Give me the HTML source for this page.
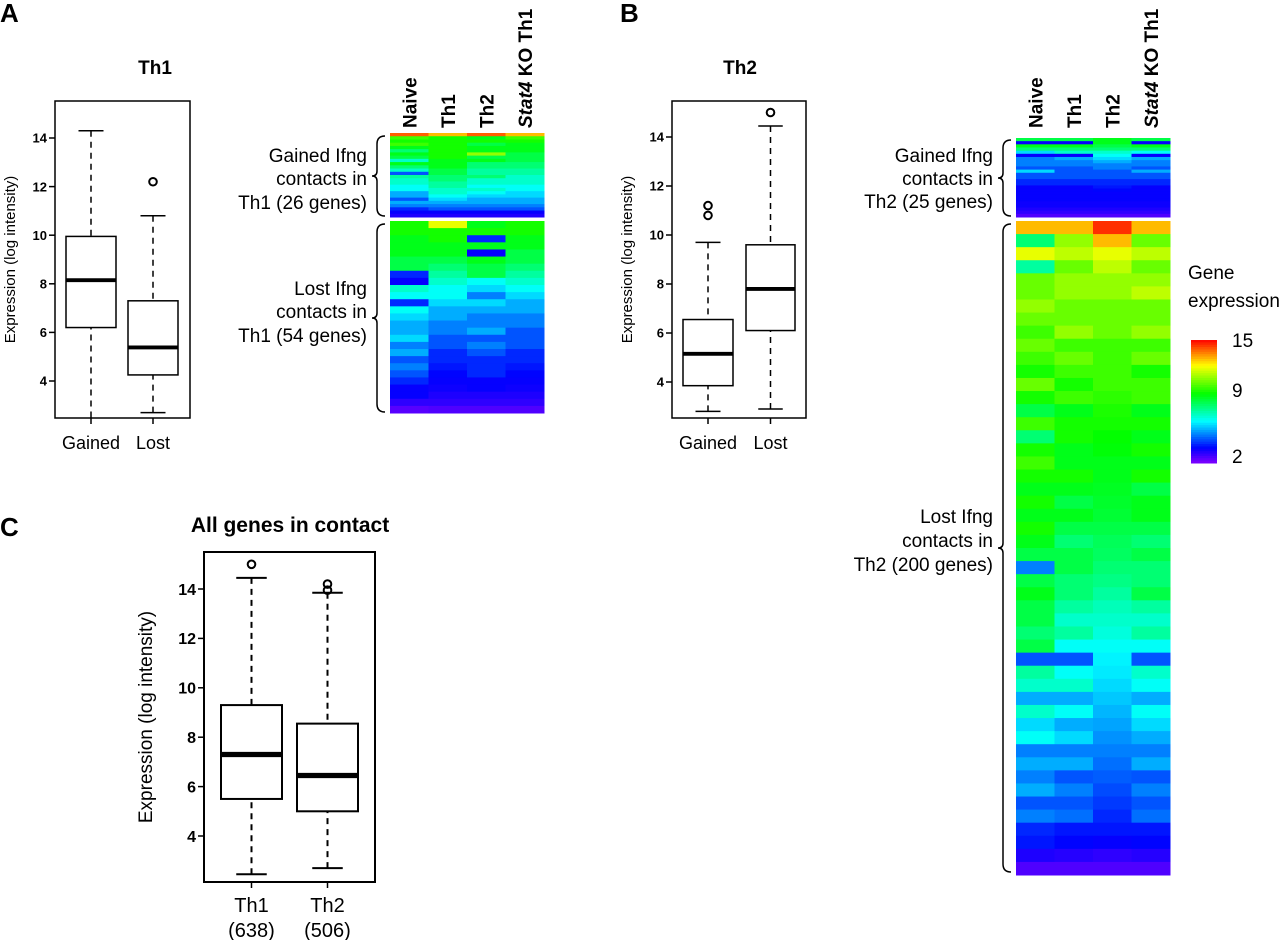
<!DOCTYPE html>
<html><head><meta charset="utf-8"><style>
html,body{margin:0;padding:0;background:#fff;}
svg{display:block;font-family:"Liberation Sans",sans-serif;}
</style></head><body>
<svg id="fig" width="1280" height="940" viewBox="0 0 1280 940">
<g id="root"></g>
</svg>
<script>
// ---- Box plot data: [whiskerLow, q1, median, q3, whiskerHigh]
const boxCatsA = ["Gained","Lost"];
const boxStatsA = [[2.5,6.2,8.15,9.95,14.3],[2.7,4.25,5.38,7.3,10.8]];
const outliersA = [[],[12.2]];
const boxCatsB = ["Gained","Lost"];
const boxStatsB = [[2.8,3.85,5.15,6.55,9.7],[2.9,6.1,7.8,9.6,14.45]];
const outliersB = [[10.8,11.2],[15]];
const boxCatsC = ["Th1","Th2"];
const boxCountsC = ["(638)","(506)"];
const boxStatsC = [[2.45,5.5,7.3,9.3,14.45],[2.7,5.0,6.45,8.55,13.85]];
const outliersC = [[15],[13.95,14.2]];
const yTicks = [4,6,8,10,12,14];
const heatCols = ["Naive","Th1","Th2","Stat4 KO Th1"];
const legendTicks = [15,9,2];

// ---- Heatmap data (log expression per row, per column)
const hmAGainedNaive=[14,10,9.5,10,9,8,9,8.5,7,9,8,7,4.5,7.5,7,7,6.5,6.5,5.5,5.5,4.5,5.5,5,4,3.5,3.2];
const hmAGainedTh1=[13,9.5,9.5,9.5,9.5,9.5,9.5,9.5,9,9,9,8.5,8.5,8,8,7.5,7.5,7,7,6.5,6,5.5,5,4.5,3.5,3.2];
const hmAGainedTh2=[14,9,9.5,8.5,9,9,11,8.5,9,8,8,7.5,7.5,8,7,7,6.5,7,6.5,6,5.5,5.5,5,4.5,3.5,3.2];
const hmAGainedStat4=[13,10,9.5,9,9,9,8.5,8.5,8.5,8,8,7.5,7.5,7,7,7,6.5,6.5,6,6,5.5,5.5,5,4.5,3.5,3.2];
const hmALostNaive=[9.5,9.5,9,9,9,8.5,8.5,4,3.5,7,6.5,4,6.5,6,5.5,5.5,6,5,5.5,4.5,5,4.5,4,3.5,3.5,3,2.5];
const hmALostTh1=[12,9.5,9.5,9,9,8.5,8,7.5,7,6.5,6.5,6,5.5,5.5,5,5,4.5,4.5,4,4,3.8,3.6,3.5,3.4,3.2,3,2.6];
const hmALostTh2=[9,9.5,4,9,3.5,9,8.5,8.5,6.5,6,5,6,5.5,5,5,5.5,4.5,5,4.5,4,4,4,3.5,3.5,3.2,3,2.6];
const hmALostStat4=[9.5,9.5,9,9,8.5,8.5,8,7.5,7,6.5,6,5.5,5.5,5,5,4.5,4.5,4.5,4,4,3.8,3.6,3.5,3.4,3.2,3,2.6];
const hmBGainedNaive=[8.5,3.5,9,8,6,3.5,5,5,5,4.5,6,4.5,4.5,4,4,3.5,3.5,3.5,3.5,3.5,3.4,3.4,3.2,3,2.6];
const hmBGainedTh1=[8.5,3.5,9,8,7,3.5,5.5,5,5,4.5,4.5,4.5,4.5,4,4,3.5,3.5,3.5,3.5,3.5,3.4,3.4,3.2,3,2.6];
const hmBGainedTh2=[9,9,8.5,8,7,6.5,6,5.5,5,5,4.5,4.5,4.5,4,4,3.8,3.6,3.5,3.5,3.5,3.4,3.4,3.2,3,2.6];
const hmBGainedStat4=[8.5,3.5,9,8,6.5,3.5,5.5,5,5,4.5,5.5,4.5,4.5,4,4,3.5,3.5,3.5,3.5,3.5,3.4,3.4,3.2,3,2.6];
const hmBLostNaive=[13,8,12,7.5,10.5,10.5,11,10.5,10,10.5,10,9.5,10.5,9.5,8.5,10,8,9.5,10,9.5,9,9.5,9,9.5,9,8.5,5,8.5,9,8.5,8.5,8,8.5,4.5,7.5,7,5.5,7,6,6.5,5,5.5,5,5.5,4.5,5,4,3.8,3.2,2.6];
const hmBLostTh1=[13,11,11.5,10.5,11,11,10.5,10.5,11,10,10.5,10,9.5,10,9,9.5,9.5,9,9,9.5,9,8.5,9,8.5,8,8.5,8.5,8,8,7.5,7,7.5,6.5,4.5,6.5,7,5.5,6.5,5.5,6,5,5.5,4.5,5,4.5,4.8,3.8,3.6,3.1,2.6];
const hmBLostTh2=[14.5,13,12,11.5,11,11,10.5,10.5,10.5,10,10,10,10,9.8,9.6,9.5,9.3,9.2,9,9,8.9,8.8,8.7,8.5,8.3,8.2,8,7.8,7.5,7.2,7,6.8,6.5,6.3,6.2,6,5.8,5.6,5.4,5.2,5,4.8,4.6,4.4,4.2,4,3.8,3.5,3,2.6];
const hmBLostStat4=[13,10.5,11.5,10.5,11,11.5,10.5,10.5,11,10,10.5,9.5,10,10,9,9.5,9,9.5,9,9.5,8.5,9,9,8.5,8,8.5,8,8,8.5,7.5,7,7.5,6.5,4.5,7,6.5,5.5,6.5,6,5.5,5,5.5,4.5,5,4.5,4.8,3.8,3.6,3.1,2.6];

const NS="http://www.w3.org/2000/svg";
const root=document.getElementById('root');
function mk(tag,attrs,parent,text){
  const e=document.createElementNS(NS,tag);
  for(const k in attrs) e.setAttribute(k,attrs[k]);
  if(text!==undefined) e.textContent=text;
  (parent||root).appendChild(e);
  return e;
}
const knots=[[0,270],[0.12,240],[0.34,180],[0.56,120],[0.79,60],[1,0]];
function color(v){
  let t=(v-2)/13; t=Math.max(0,Math.min(1,t));
  let h=0;
  for(let i=0;i<knots.length-1;i++){
    if(t>=knots[i][0]&&t<=knots[i+1][0]){
      const f=(t-knots[i][0])/(knots[i+1][0]-knots[i][0]);
      h=knots[i][1]+f*(knots[i+1][1]-knots[i][1]);break;
    }
  }
  return 'hsl('+h.toFixed(1)+',100%,50%)';
}

// ---- Box plot
function boxPlot(opt){
  const g=mk('g',{});
  
  
  const y=v=>opt.y14+(14-v)*opt.k;
  const fr=mk('rect',{x:opt.x0,y:opt.top,width:opt.x1-opt.x0,height:opt.bot-opt.top,fill:'none',stroke:'#000','stroke-width':opt.sw},g);
  
  
  yTicks.forEach(t=>{
    const tl=mk('line',{x1:opt.x0-6,x2:opt.x0,y1:y(t),y2:y(t),stroke:'#000','stroke-width':1.5},g);
    
    
    const tx=mk('text',{x:opt.x0-8,y:y(t)+opt.tf*0.36,'text-anchor':'end','font-size':opt.tf,'font-weight':'bold'},g,String(t));
    
    
  });
  const at=mk('text',{transform:'translate('+opt.titleX+','+((opt.top+opt.bot)/2)+') rotate(-90)','text-anchor':'middle','font-size':opt.af},g,'Expression (log intensity)');
  
  
  opt.stats.forEach((s,i)=>{
    const bx0=opt.boxes[i][0], bx1=opt.boxes[i][1], cx=(bx0+bx1)/2, cw=(bx1-bx0)*0.25;
    const bg=mk('g',{},g);
    
    
    mk('line',{x1:cx,x2:cx,y1:y(s[4]),y2:y(s[3]),stroke:'#000','stroke-width':opt.sw,'stroke-dasharray':'6,5'},bg);
    mk('line',{x1:cx,x2:cx,y1:Math.min(y(s[0]),opt.bot),y2:y(s[1]),stroke:'#000','stroke-width':opt.sw,'stroke-dasharray':'6,5'},bg);
    mk('line',{x1:cx-cw,x2:cx+cw,y1:y(s[4]),y2:y(s[4]),stroke:'#000','stroke-width':opt.sw},bg);
    if(y(s[0])<opt.bot-1) mk('line',{x1:cx-cw,x2:cx+cw,y1:y(s[0]),y2:y(s[0]),stroke:'#000','stroke-width':opt.sw},bg);
    mk('rect',{x:bx0,y:y(s[3]),width:bx1-bx0,height:y(s[1])-y(s[3]),fill:'#fff',stroke:'#000','stroke-width':opt.sw},bg);
    mk('line',{x1:bx0,x2:bx1,y1:y(s[2]),y2:y(s[2]),stroke:'#000','stroke-width':opt.sw*2.6},bg);
    opt.outs[i].forEach(o=>{
      const c=mk('circle',{cx:cx,cy:y(o),r:3.8,fill:'none',stroke:'#000','stroke-width':2},bg);
      
      
    });
    mk('line',{x1:cx,x2:cx,y1:opt.bot,y2:opt.bot+6,stroke:'#000','stroke-width':1.5},bg);
    const xl=mk('text',{x:cx,y:opt.labY,'text-anchor':'middle','font-size':opt.lf},g,opt.cats[i]);
    
    
    if(opt.sub){
      const sl=mk('text',{x:cx,y:opt.labY+25,'text-anchor':'middle','font-size':opt.lf},g,opt.sub[i]);
      
      
    }
  });
}
boxPlot({name:'boxplot-th1',x0:55,x1:190,top:101,bot:418,y14:138,k:24.3,sw:1.5,tf:13,af:15,lf:18,titleX:15,labY:449,
  stats:boxStatsA,outs:outliersA,cats:boxCatsA,boxes:[[66,116],[128,178]]});
boxPlot({name:'boxplot-th2',x0:672,x1:806,top:101,bot:418,y14:137,k:24.5,sw:1.5,tf:13,af:15,lf:18,titleX:632,labY:449,
  stats:boxStatsB,outs:outliersB,cats:boxCatsB,boxes:[[683,733],[746,795]]});
boxPlot({name:'boxplot-all-genes',x0:204,x1:375,top:552,bot:882,y14:589,k:24.7,sw:2,tf:16,af:19,lf:20,titleX:152,labY:912,
  stats:boxStatsC,outs:outliersC,cats:boxCatsC,sub:boxCountsC,boxes:[[221,282],[297,358]]});

// ---- Heatmaps
function heat(name,x0,y0,y1,cols){
  const g=mk('g',{});
  
  
  const w=(154)/4;
  cols.forEach((arr,ci)=>{
    const h=(y1-y0)/arr.length;
    arr.forEach((v,ri)=>{
      const r=mk('rect',{x:x0+ci*w,y:y0+ri*h,width:w+0.5,height:h+0.5,fill:color(v)},g);
      
      
    });
  });
}
heat('heatmap-a-gained',390,133,217,[hmAGainedNaive,hmAGainedTh1,hmAGainedTh2,hmAGainedStat4]);
heat('heatmap-a-lost',390,221,413,[hmALostNaive,hmALostTh1,hmALostTh2,hmALostStat4]);
heat('heatmap-b-gained',1016,138,217,[hmBGainedNaive,hmBGainedTh1,hmBGainedTh2,hmBGainedStat4]);
heat('heatmap-b-lost',1016,221,875,[hmBLostNaive,hmBLostTh1,hmBLostTh2,hmBLostStat4]);

function colLabels(x0){
  const w=154/4;
  heatCols.forEach((c,i)=>{
    const t=mk('text',{transform:'translate('+(x0+w*i+w/2+7)+',128) rotate(-90)','font-size':19,'font-weight':'bold'});
    
    
    if(c.startsWith('Stat4')){
      mk('tspan',{'font-style':'italic'},t,'Stat4');
      mk('tspan',{},t,' KO Th1');
    } else t.textContent=c;
  });
}
colLabels(390); colLabels(1016);

function label(lines,xr,ys,name){
  const g=mk('g',{});
  
  
  lines.forEach((l,i)=>mk('text',{x:xr,y:ys[i]+7,'text-anchor':'end','font-size':19},g,l));
}
function brace(x,y0,y1,name){
  const m=(y0+y1)/2;
  const p=mk('path',{d:`M${x+8},${y0} Q${x},${y0} ${x},${y0+8} L${x},${m-5} Q${x},${m} ${x-5},${m} Q${x},${m} ${x},${m+5} L${x},${y1-8} Q${x},${y1} ${x+8},${y1}`,fill:'none',stroke:'#000','stroke-width':1.5});
  
  
}
label(['Gained Ifng','contacts in','Th1 (26 genes)'],367,[155,178,202],'label-a-gained');
label(['Lost Ifng','contacts in','Th1 (54 genes)'],367,[288,311,335],'label-a-lost');
label(['Gained Ifng','contacts in','Th2 (25 genes)'],993,[155,178,201],'label-b-gained');
label(['Lost Ifng','contacts in','Th2 (200 genes)'],993,[516,540,564],'label-b-lost');
brace(377,136,216,'brace-a-gained');
brace(377,224,412,'brace-a-lost');
brace(1003,140,216,'brace-b-gained');
brace(1003,224,872,'brace-b-lost');

// ---- Titles & panel letters
[['A',0,22,26],['B',620,22,26],['C',0,536,26]].forEach(a=>{
  const t=mk('text',{x:a[1],y:a[2],'font-size':a[3],'font-weight':'bold'},root,a[0]);
  
  
});
[['Th1',155,74,19],['Th2',740,74,19],['All genes in contact',290,532,21]].forEach(a=>{
  const t=mk('text',{x:a[1],y:a[2],'font-size':a[3],'font-weight':'bold','text-anchor':'middle'},root,a[0]);
  
  
});

// ---- Legend
const lg=mk('g',{});


mk('text',{x:1188,y:279,'font-size':19},lg,'Gene');
mk('text',{x:1188,y:307,'font-size':19},lg,'expression');
const ly=v=>340+(15-v)/13*123;
for(let v=15;v>2;v-=0.25){
  mk('rect',{x:1191,y:ly(v),width:26,height:123/52+0.5,fill:color(v-0.125)},lg);
}
legendTicks.forEach(t=>{
  const tx=mk('text',{x:1232,y:Math.min(Math.max(ly(t),347),468),'font-size':19},lg,String(t));
  
  
});
</script>
</body></html>
